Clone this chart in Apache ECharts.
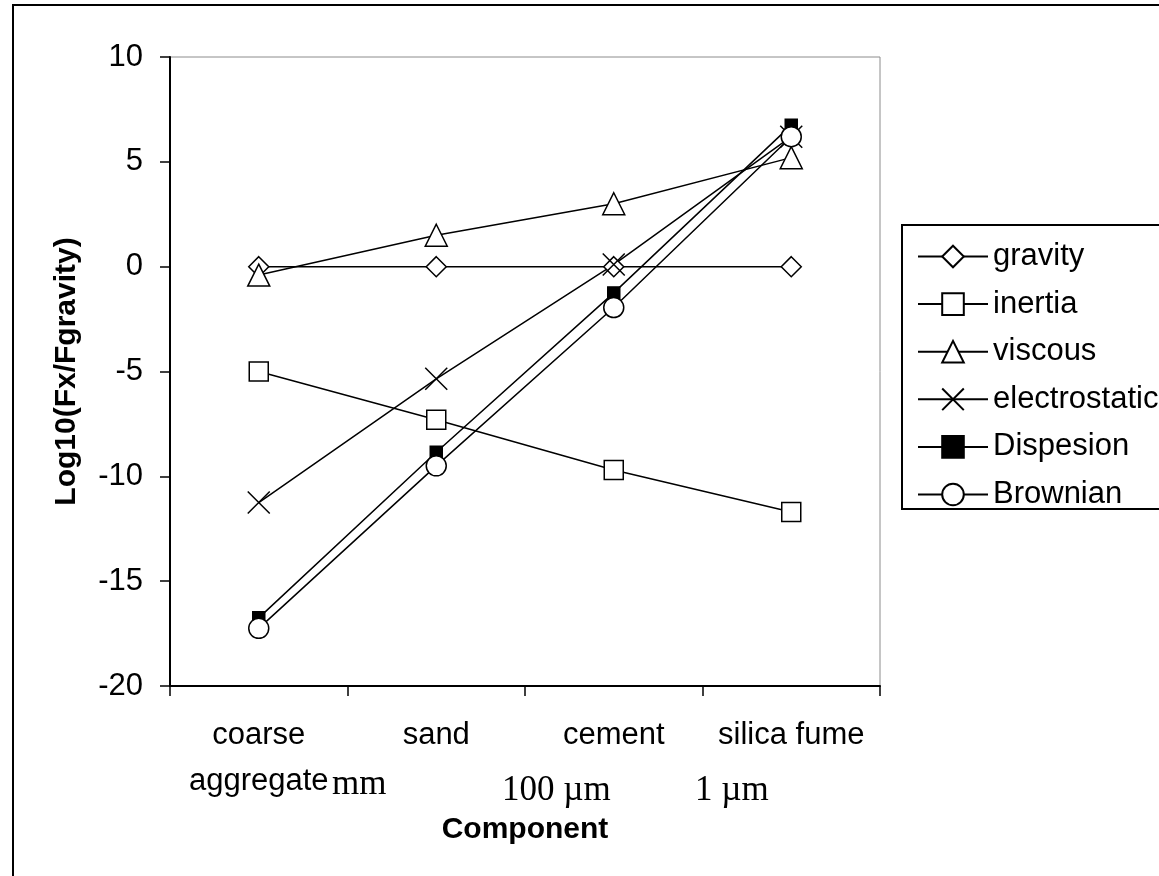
<!DOCTYPE html>
<html>
<head>
<meta charset="utf-8">
<script src="https://cdn.jsdelivr.net/npm/echarts@6/dist/echarts.min.js"></script>
<style>html,body{margin:0;padding:0;background:#fff;}#c{width:1159px;height:876px;}</style>
</head>
<body>
<div id="c"></div>
<script>
const categories = ['coarse\naggregate', 'sand', 'cement', 'silica fume'];
const yTicks = { min: -20, max: 10, interval: 5 };
const gravity = [0, 0, 0, 0];
const inertia = [-5.0, -7.3, -9.7, -11.7];
const viscous = [-0.4, 1.5, 3.0, 5.2];
const electrostatic = [-11.25, -5.35, 0.1, 6.2];
const dispesion = [-16.75, -8.85, -1.25, 6.75];
const brownian = [-17.25, -9.5, -1.95, 6.2];
const sizeNotes = ['mm', '100 \u00b5m', '1 \u00b5m'];

const SANS = 'Liberation Sans';
const SERIF = 'Liberation Serif';
const chart = echarts.init(document.getElementById('c'));

function mk(name, data, symbol, size, filled) {
  return {
    name: name, type: 'line', data: data,
    symbol: symbol, symbolSize: size, showSymbol: true,
    lineStyle: { color: '#000', width: 1.5 },
    itemStyle: { color: filled ? '#000' : '#fff', borderColor: '#000', borderWidth: 1.5 },
    emphasis: { disabled: true }
  };
}

chart.setOption({
  animation: false,
  backgroundColor: '#fff',
  color: ['#000'],
  grid: { left: 170, right: 279, top: 57, bottom: 190, show: true, borderColor: '#8c8c8c', borderWidth: 1 },
  xAxis: {
    type: 'category', data: categories, boundaryGap: true,
    name: 'Component', nameLocation: 'middle', nameGap: 129,
    nameTextStyle: { fontFamily: SANS, fontSize: 30, fontWeight: 'bold', color: '#000' },
    axisLine: { onZero: false, lineStyle: { color: '#000', width: 2 } },
    axisTick: { show: true, length: 10, lineStyle: { color: '#000', width: 1.5 } },
    axisLabel: { margin: 26, fontFamily: SANS, fontSize: 31, lineHeight: 46, color: '#000', interval: 0 },
    splitLine: { show: false }
  },
  yAxis: {
    type: 'value', min: yTicks.min, max: yTicks.max, interval: yTicks.interval,
    name: 'Log10(Fx/Fgravity)', nameLocation: 'middle', nameGap: 88,
    nameTextStyle: { fontFamily: SANS, fontSize: 30, fontWeight: 'bold', color: '#000' },
    axisLine: { show: true, lineStyle: { color: '#000', width: 2 } },
    axisTick: { show: true, length: 10, lineStyle: { color: '#000', width: 1.5 } },
    axisLabel: { margin: 27, fontFamily: SANS, fontSize: 31, color: '#000' },
    splitLine: { show: false }
  },
  legend: {
    orient: 'vertical', left: 912, top: 236,
    itemWidth: 70, itemHeight: 27, itemGap: 16.6,
    textStyle: { fontFamily: SANS, fontSize: 31, color: '#000' },
    data: ['gravity', 'inertia', 'viscous', 'electrostatic', 'Dispesion', 'Brownian']
  },
  graphic: [
    { type: 'rect', shape: { x: 13, y: 5, width: 1200, height: 900 }, style: { fill: 'none', stroke: '#000', lineWidth: 2 }, z: 100 },
    { type: 'rect', shape: { x: 902, y: 225, width: 300, height: 284 }, style: { fill: '#fff', stroke: '#000', lineWidth: 2 }, z: -1 },
    { type: 'text', left: 332, top: 767, style: { text: sizeNotes[0], font: '35px ' + SERIF, fill: '#000' } },
    { type: 'text', left: 502, top: 773, style: { text: sizeNotes[1], font: '35px ' + SERIF, fill: '#000' } },
    { type: 'text', left: 695, top: 773, style: { text: sizeNotes[2], font: '35px ' + SERIF, fill: '#000' } }
  ],
  series: [
    mk('gravity', gravity, 'diamond', 20, false),
    mk('inertia', inertia, 'rect', 19, false),
    mk('viscous', viscous, 'triangle', 22, false),
    mk('electrostatic', electrostatic, 'path://M0,0L20,20M20,0L0,20', 22, false),
    mk('Dispesion', dispesion, 'rect', 12, true),
    mk('Brownian', brownian, 'circle', 20, false)
  ]
});
</script>
</body>
</html>
